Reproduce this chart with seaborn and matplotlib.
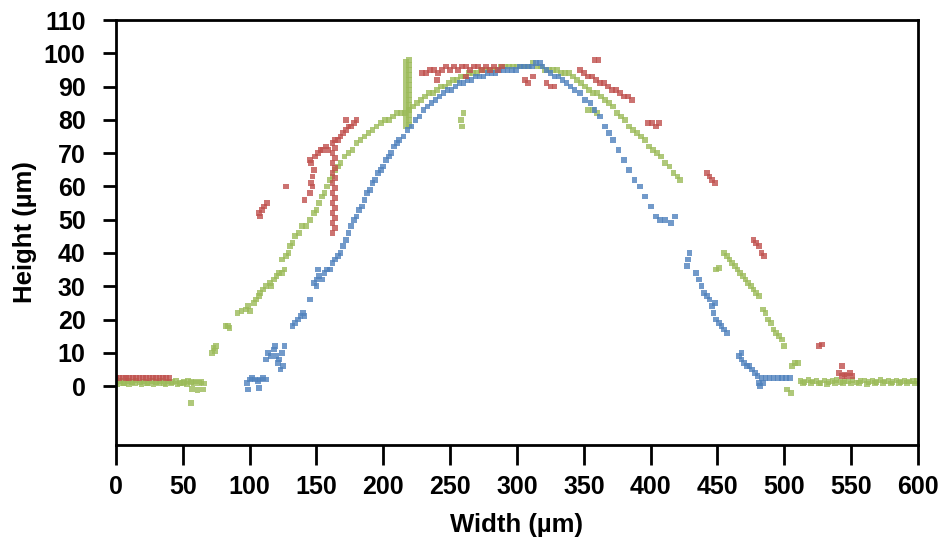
import matplotlib
matplotlib.use("Agg")
import matplotlib.pyplot as plt
import numpy as np
import pandas as pd
import seaborn as sns

# Surface profile measurements (width in µm, height in µm) for three scans
green_x = [0, 3, 6, 9, 12, 15, 18, 21, 24, 27, 30, 33, 36, 39, 42, 45, 48, 51, 54,
           1, 5, 10, 14, 19, 23, 28, 32, 37, 41, 46, 50, 53,
           56, 58, 60, 62, 64, 66, 57, 61, 65, 56,
           72, 73, 74, 75, 82, 84, 85,
           91, 94, 97, 100, 99, 103, 105, 108, 110, 107,
           112, 115, 118, 120, 122, 124, 126, 116, 124, 127, 129,
           130, 132, 134, 137, 139, 142, 145, 148, 150, 152, 154, 156, 158, 160, 162, 164, 166,
           168, 171, 174, 177, 180, 183, 186, 189, 192, 195, 198, 201, 204, 207, 210, 213, 216,
           219, 222, 225, 228, 231, 234, 237, 240, 243, 246, 249, 252, 255, 258, 261, 264, 267,
           270, 273, 276, 279, 282, 285, 288, 291, 294, 297, 300, 303, 306, 309, 312, 315, 318,
           321, 324, 327, 330, 333, 336, 339, 342, 345, 348, 351, 354, 357, 360, 363, 366, 369,
           372, 375, 378, 381, 384, 387, 390, 393, 396, 399, 402, 405, 408, 411, 414, 417, 420, 422,
           353, 357, 360, 258, 259, 260,
           217, 217, 217, 217, 217, 217, 217, 217, 217, 217, 217, 217, 217, 217,
           219, 219, 219, 219, 219, 219, 219, 219, 219, 219, 219, 219, 219, 219,
           449, 451,
           455, 457, 459, 461, 463, 465, 467, 469, 471, 473, 475, 477, 479, 481,
           484, 486, 488, 490, 492, 494, 496, 498, 500,
           506, 508, 510, 502, 505,
           512, 515, 518, 521, 524, 527, 530, 533, 536, 539, 542, 545, 548, 551, 554, 557, 560,
           563, 566, 569, 572, 575, 578, 581, 584, 587, 590, 593, 596, 599,
           514, 520, 526, 532, 538, 544, 550, 556, 562, 568, 574, 580, 586, 592, 598]
green_y = [1.2, 1.6, 1.0, 1.5, 1.2, 1.7, 1.1, 1.4, 1.0, 1.6, 1.2, 1.5, 1.0, 1.4, 1.2, 1.6, 1.0, 1.3, 1.5,
           0.7, 0.8, 0.6, 0.9, 0.7, 0.8, 0.6, 0.9, 0.7, 0.8, 0.6, 0.9, 0.7,
           1.3, 0.9, 1.4, 1.0, 1.2, 0.8, -0.8, -1.2, -1.0, -5.0,
           10.0, 11.5, 10.5, 12.0, 18.0, 18.0, 17.5,
           22.0, 22.5, 23.0, 22.5, 24.0, 25.0, 26.0, 28.0, 29.0, 27.0,
           30.0, 31.0, 32.0, 33.0, 34.0, 34.0, 35.0, 30.0, 38.0, 39.0, 40.0,
           42.0, 43.0, 45.0, 46.0, 48.0, 48.0, 50.0, 52.0, 53.0, 55.0, 57.0, 58.0, 60.0, 62.0, 63.0, 65.0, 66.0,
           67.0, 69.0, 70.0, 71.0, 73.0, 74.0, 75.0, 76.0, 77.0, 78.0, 79.0, 80.0, 80.0, 81.0, 82.0, 82.0, 82.0,
           83.0, 84.0, 85.0, 86.0, 87.0, 88.0, 88.0, 89.0, 90.0, 90.0, 91.0, 92.0, 92.0, 93.0, 93.0, 94.0, 94.0,
           94.0, 95.0, 95.0, 95.0, 95.0, 95.0, 96.0, 96.0, 96.0, 96.0, 96.0, 96.0, 96.0, 96.0, 97.0, 96.0, 96.0,
           95.0, 95.0, 95.0, 95.0, 94.0, 94.0, 94.0, 93.0, 92.0, 91.0, 90.0, 89.0, 88.0, 88.0, 87.0, 86.0, 85.0,
           84.0, 82.0, 81.0, 80.0, 78.0, 77.0, 76.0, 75.0, 74.0, 72.0, 71.0, 70.0, 69.0, 67.0, 66.0, 64.0, 63.0, 62.0,
           83.0, 83.0, 82.0, 80.0, 78.0, 82.0,
           78.0, 79.5, 81.0, 82.5, 84.0, 85.5, 87.0, 88.5, 90.0, 91.5, 93.0, 94.5, 96.0, 97.5,
           78.5, 80.0, 81.5, 83.0, 84.5, 86.0, 87.5, 89.0, 90.5, 92.0, 93.5, 95.0, 96.5, 98.0,
           35.0, 35.5,
           40.0, 39.0, 38.0, 37.0, 36.0, 35.0, 34.0, 33.0, 32.0, 31.0, 30.0, 29.0, 28.0, 27.0,
           23.0, 22.0, 20.0, 19.0, 17.0, 16.0, 15.0, 14.0, 12.0,
           6.0, 7.0, 7.0, -1.0, -2.0,
           1.5, 1.2, 1.8, 1.4, 1.6, 1.0, 1.7, 1.3, 1.5, 1.9, 1.2, 1.6, 1.4, 1.8, 1.1, 1.5, 1.7,
           1.3, 1.6, 1.2, 1.8, 1.4, 1.5, 1.2, 1.7, 1.3, 1.6, 1.4, 1.5, 1.6,
           0.9, 1.0, 0.8, 0.7, 1.0, 0.9, 0.8, 1.0, 0.7, 0.9, 1.0, 0.8, 0.9, 1.0, 0.8]

blue_x = [98, 100, 102, 104, 106, 108, 110, 112, 99, 107,
          112, 114, 116, 118, 120, 122, 124, 126, 119, 121, 125, 123,
          132, 134, 136, 138, 140, 141, 145,
          148, 150, 152, 154, 156, 158, 160, 151, 150,
          162, 164, 166, 168,
          170, 172, 174, 176, 178, 180, 182, 184, 186, 188, 190, 192, 194, 196, 198, 200,
          202, 204, 206, 208, 210, 212, 215, 218, 221, 224, 227, 230, 233, 236, 239, 242,
          245, 248, 251, 254, 257, 260, 263, 266, 269, 272, 275, 278, 281, 284, 287, 290,
          293, 296, 299, 302, 305, 308, 311, 314, 317, 319, 322, 325, 328, 331, 334, 337,
          340, 343, 347, 351, 355, 358, 362, 366, 369, 372, 376, 380, 384, 388, 392, 396,
          400, 404, 407, 411, 415, 418,
          427, 428, 429, 434, 436, 438, 440, 442, 444, 446, 448, 447, 449, 451, 453, 455, 457,
          466, 468, 470, 472, 474, 476, 478, 480, 468, 481,
          483, 486, 489, 492, 495, 498, 501, 504, 484, 482]
blue_y = [1.0, 2.0, 2.5, 2.0, 1.5, 2.0, 2.5, 2.0, -1.0, -0.5,
          8.0, 10.0, 9.0, 11.0, 9.0, 8.0, 10.0, 12.0, 12.0, 7.0, 6.0, 5.0,
          18.0, 19.0, 20.0, 21.0, 22.0, 21.0, 26.0,
          31.0, 32.0, 33.0, 32.0, 34.0, 35.0, 35.0, 35.0, 30.0,
          37.0, 38.0, 39.0, 40.0,
          42.0, 44.0, 46.0, 48.0, 50.0, 51.0, 53.0, 54.0, 56.0, 58.0, 59.0, 61.0, 62.0, 64.0, 65.0, 66.0,
          68.0, 69.0, 70.0, 72.0, 73.0, 74.0, 75.0, 77.0, 78.0, 80.0, 81.0, 83.0, 84.0, 85.0, 86.0, 87.0,
          88.0, 89.0, 89.0, 90.0, 91.0, 91.0, 92.0, 92.0, 93.0, 93.0, 93.0, 94.0, 94.0, 94.0, 95.0, 95.0,
          95.0, 95.0, 95.0, 96.0, 96.0, 96.0, 96.0, 97.0, 97.0, 96.0, 95.0, 94.0, 93.0, 93.0, 92.0, 91.0,
          90.0, 89.0, 88.0, 86.0, 85.0, 83.0, 81.0, 78.0, 76.0, 74.0, 71.0, 68.0, 65.0, 62.0, 60.0, 57.0,
          54.0, 51.0, 50.0, 50.0, 49.0, 51.0,
          36.0, 38.0, 40.0, 34.0, 32.0, 30.0, 28.0, 27.0, 26.0, 24.0, 25.0, 22.0, 20.0, 19.0, 18.0, 17.0, 16.0,
          9.0, 8.0, 7.0, 6.0, 6.0, 5.0, 4.0, 3.0, 10.0, 1.0,
          2.5, 2.5, 2.5, 2.5, 2.5, 2.5, 2.5, 2.5, 1.0, 0.0]

red_x = [0, 2.5, 5, 7.5, 10, 12.5, 15, 17.5, 20, 22.5, 25, 27.5, 30, 32.5, 35, 37.5, 40,
         107, 109, 111, 113, 108, 127, 141,
         145, 146, 147, 148, 146, 145, 147,
         149, 151, 153, 155, 157, 159,
         162, 162, 162, 162, 162, 162, 162, 162, 162, 162,
         164, 164, 164, 164, 164, 164, 164, 164, 164, 164,
         166, 168, 170, 172, 174, 176, 178, 180, 172,
         229, 232, 235, 238, 241, 244, 247, 250, 253, 256, 259, 262, 265, 268, 271, 274,
         277, 280, 283, 286, 289, 240, 262,
         306, 308, 312, 322, 325, 328,
         347, 350, 353, 356, 359, 362, 365, 368, 371, 374, 377, 380, 383, 386, 358, 361,
         398, 401, 404, 406,
         442, 444, 446, 448,
         477, 479, 481, 483, 485,
         526, 528,
         541, 543, 545, 547, 549, 551, 543]
red_y = [2.5, 2.4, 2.6, 2.5, 2.4, 2.6, 2.5, 2.4, 2.6, 2.5, 2.4, 2.6, 2.5, 2.4, 2.6, 2.5, 2.4,
         52.0, 53.0, 54.0, 55.0, 51.0, 60.0, 56.0,
         58.0, 61.0, 63.0, 65.0, 67.0, 68.0, 60.0,
         69.0, 70.0, 71.0, 71.0, 72.0, 71.0,
         46.0, 49.0, 52.0, 55.0, 58.0, 61.0, 64.0, 67.0, 70.0, 73.0,
         47.5, 50.5, 53.5, 56.5, 59.5, 62.5, 65.5, 68.5, 71.5, 74.0,
         74.0, 75.0, 76.0, 77.0, 78.0, 78.0, 79.0, 80.0, 80.0,
         94.0, 94.0, 95.0, 95.0, 94.0, 95.0, 96.0, 95.0, 96.0, 95.0, 96.0, 96.0, 95.0, 96.0, 96.0, 95.0,
         96.0, 95.0, 96.0, 95.0, 96.0, 92.0, 93.0,
         92.0, 91.0, 93.0, 91.0, 90.0, 90.0,
         95.0, 94.0, 93.0, 93.0, 92.0, 91.0, 91.0, 90.0, 89.0, 89.0, 88.0, 87.0, 87.0, 86.0, 98.0, 98.0,
         79.0, 79.0, 78.0, 79.0,
         64.0, 63.0, 62.0, 61.0,
         44.0, 43.0, 42.0, 40.0, 39.0,
         12.0, 12.5,
         4.0, 3.0, 3.5, 3.0, 4.0, 3.0, 6.0]

x_ticks = list(range(0, 601, 50))
y_ticks = list(range(0, 111, 10))

profiles = pd.concat([
    pd.DataFrame({"width": green_x, "height": green_y, "scan": "green"}),
    pd.DataFrame({"width": blue_x, "height": blue_y, "scan": "blue"}),
    pd.DataFrame({"width": red_x, "height": red_y, "scan": "red"}),
], ignore_index=True)

palette = {"green": "#9BBB59", "blue": "#4F81BD", "red": "#C0504D"}

sns.set_style("white")
plt.rcParams["font.family"] = ["Liberation Sans", "DejaVu Sans"]
plt.rcParams["font.weight"] = "bold"
plt.rcParams["text.color"] = "black"
plt.rcParams["axes.labelcolor"] = "black"

fig = plt.figure(figsize=(9.46, 5.44), dpi=100)
ax = fig.add_axes([0.1226, 0.182, 0.8478, 0.7812])

sns.scatterplot(data=profiles, x="width", y="height", hue="scan", palette=palette,
                marker="s", s=17, linewidth=0, alpha=0.8, legend=False, ax=ax)

ax.set_xlim(0, 600)
ax.set_ylim(-17.7, 110)
ax.set_xticks(x_ticks)
ax.set_yticks(y_ticks)
ax.set_xticklabels([str(v) for v in x_ticks])
ax.set_yticklabels([str(v) for v in y_ticks])

for side in ["left", "bottom", "top", "right"]:
    ax.spines[side].set_visible(True)
    ax.spines[side].set_linewidth(2.0)
    ax.spines[side].set_color("black")

ax.tick_params(axis="x", direction="out", length=14.4, width=2.0, pad=7,
               labelsize=18, colors="black", bottom=True)
ax.tick_params(axis="y", direction="out", length=9.4, width=2.0, pad=12.5,
               labelsize=18, colors="black", left=True)
for lab in ax.get_xticklabels() + ax.get_yticklabels():
    lab.set_fontweight("bold")
    lab.set_color("black")

ax.set_xlabel("Width (µm)", fontsize=18.5, fontweight="bold", labelpad=10, color="black")
ax.set_ylabel("Height (µm)", fontsize=18.5, fontweight="bold", labelpad=5, color="black")
ax.grid(False)

fig.savefig("out.png", dpi=100, facecolor="white")
